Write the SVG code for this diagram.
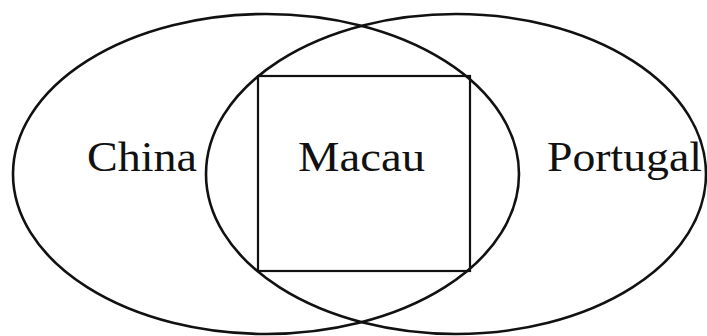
<svg xmlns="http://www.w3.org/2000/svg" width="707" height="336" viewBox="0 0 707 336">
<style>
.shape{fill:none;stroke:#111;stroke-width:2.6}
.box{fill:none;stroke:#111;stroke-width:2.2}
.lbl{font-family:"Liberation Serif","Times New Roman",serif;font-size:42px;fill:#111}
</style>
<rect width="707" height="336" fill="#fff"/>
<g id="china">
<ellipse class="shape" cx="266" cy="174" rx="253" ry="160"/>
<text class="lbl" x="87" y="171" textLength="110" lengthAdjust="spacingAndGlyphs">China</text>
</g>
<g id="portugal">
<ellipse class="shape" cx="456" cy="174" rx="250" ry="160"/>
<text class="lbl" x="547" y="171" textLength="155" lengthAdjust="spacingAndGlyphs">Portugal</text>
</g>
<g id="macau">
<rect class="box" x="258" y="76" width="212" height="195"/>
<text class="lbl" x="298" y="171" textLength="127" lengthAdjust="spacingAndGlyphs">Macau</text>
</g>
<g id="connectors"></g>
</svg>
